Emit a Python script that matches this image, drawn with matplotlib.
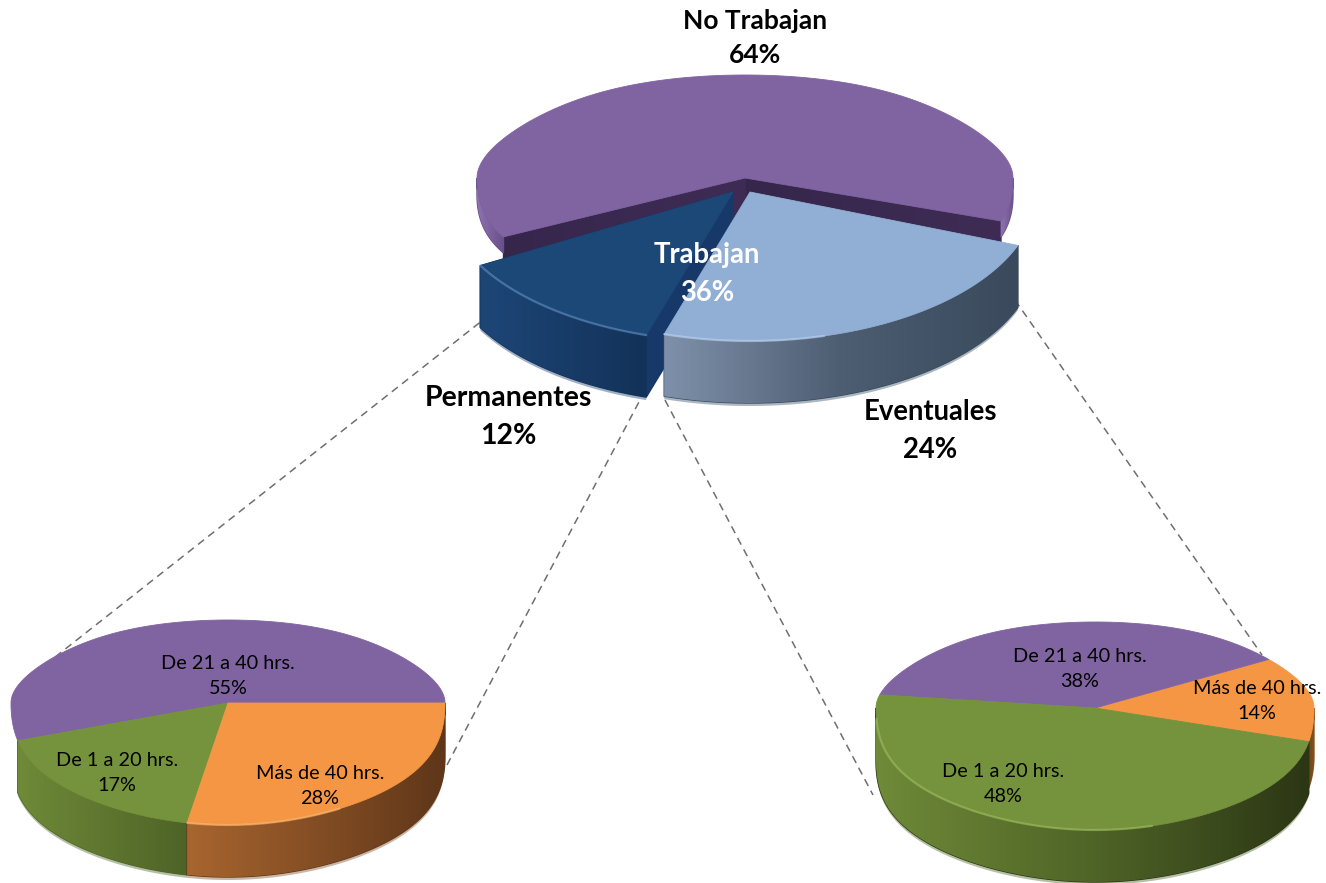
import numpy as np
import matplotlib
matplotlib.use("Agg")
import matplotlib.pyplot as plt
from matplotlib.colors import LinearSegmentedColormap
from matplotlib.patches import Polygon

plt.rcParams['font.family'] = ['Lato', 'DejaVu Sans']

# data
main_labels = ["No Trabajan", "Permanentes", "Eventuales"]
main_values = [64, 12, 24]
worker_label = "Trabajan"
worker_value = 36

perm_labels = ["De 21 a 40 hrs.", "De 1 a 20 hrs.", "Más de 40 hrs."]
perm_values = [55, 17, 28]
even_labels = ["Más de 40 hrs.", "De 21 a 40 hrs.", "De 1 a 20 hrs."]
even_values = [14, 38, 48]

PURPLE = "#8063a1"
NAVY = "#1c4878"
LIGHT = "#91afd5"
GREEN = "#75923c"
ORANGE = "#f49643"

fig = plt.figure(figsize=(13.26, 8.83), dpi=100)
ax = fig.add_axes([0, 0, 1, 1])
ax.set_xlim(0, 1326)
ax.set_ylim(883, 0)
ax.axis("off")
ax.set_autoscale_on(False)

z = [10]


def next_z():
    z[0] += 1
    return z[0]


def rim(cx, cy, rx, ryb, ryf, a0, a1, k=0.28, n=200):
    # angles in degrees, counter-clockwise, back half flatter and narrower
    t = np.radians(np.linspace(a0, a1, n))
    s = np.sin(t)
    y = cy - np.where(s > 0, ryb * s, ryf * s)
    return cx + rx * np.cos(t) * (1 - k * s * np.abs(s) * (1 - np.abs(s))), y


def wall(xs, ys, depth, stops, pale=None):
    # outer or radial side of a slice, filled with a left to right gradient
    if pale:
        px = np.r_[xs, xs[::-1]]
        py = np.r_[ys, ys[::-1] + depth + 3]
        ax.fill(px, py, color=pale, lw=0, zorder=next_z())
    pts = np.c_[np.r_[xs, xs[::-1]], np.r_[ys, ys[::-1] + depth]]
    ax.fill(pts[:, 0], pts[:, 1], color=stops[-1], lw=1, zorder=next_z())
    cmap = LinearSegmentedColormap.from_list("w", stops)
    im = ax.imshow(np.linspace(0, 1, 256)[None, :], cmap=cmap, aspect="auto",
                   extent=[xs.min(), xs.max(), pts[:, 1].max(), pts[:, 1].min()],
                   interpolation="bilinear", zorder=next_z())
    im.set_clip_path(Polygon(pts, transform=ax.transData))


def front_ranges(a0, a1):
    # the part of [a0, a1] that lies on the front half of the pie
    out = []
    for lo, hi in [(-180, 0), (180, 360), (540, 720)]:
        a, b = max(a0, lo), min(a1, hi)
        if b > a:
            out.append((a, b))
    return out


def slice3d(geo, depth, a0, a1, top, outer=None, radial=None, pale=None,
            shine=None, shine_span=None, radial_depth=None, k=0.28):
    cx, cy, rx, ryb, ryf = geo
    if radial:
        for a in (a0, a1):
            xr, yr = rim(cx, cy, rx, ryb, ryf, a, a, k, 1)
            wall(np.r_[cx, xr], np.r_[cy, yr], radial_depth or depth, radial)
    if outer:
        for lo, hi in front_ranges(a0, a1):
            xs, ys = rim(cx, cy, rx, ryb, ryf, lo, hi, k)
            wall(xs, ys, depth, outer, pale)
    xs, ys = rim(cx, cy, rx, ryb, ryf, a0, a1, k, 300)
    ax.fill(np.r_[cx, xs], np.r_[cy, ys], color=top, lw=0.6, ec=top, zorder=next_z())
    if shine:
        for lo, hi in front_ranges(a0, a1):
            if shine_span:
                lo, hi = max(lo, shine_span[0]), min(hi, shine_span[1])
            xs, ys = rim(cx, cy, rx, ryb, ryf, lo, hi, k)
            ax.plot(xs, ys, color=shine, lw=1.6, alpha=0.5, zorder=next_z(),
                    solid_capstyle="round")


def sweep(start, values):
    # slice limits going counter-clockwise from start
    edges = start + np.cumsum([0] + list(values)) * 3.6
    return list(zip(edges[:-1], edges[1:]))


# dashed leader lines
leaders = [((45, 665), (483, 320)), ((447, 765), (640, 400)),
           ((665, 400), (873, 795)), ((1015, 300), (1262, 655))]
for p, q in leaders:
    ax.plot([p[0], q[0]], [p[1], q[1]], color="#6f6f6f", lw=1.1,
            dashes=(5, 3.5), zorder=5)

# main pie
mr = sweep(-21, main_values)
slice3d((745, 178, 268, 103, 120), 16, *mr[0], PURPLE, ["#8f73b0", "#6a4f8a"],
        radial=["#36264c", "#3e2c54"], radial_depth=60)
slice3d((733, 192, 290, 0, 150), 62, *mr[1], NAVY, ["#1d4677", "#133259"],
        radial=["#17396a", "#17396a"], pale="#9fb0c4", shine="#6f9fd0", k=0)
slice3d((750, 192, 287, 0, 149), 62, *mr[2], LIGHT, ["#7f91aa", "#4d5d72", "#3a4a5c"],
        pale="#aab6c2", shine="#c6dcf5", shine_span=(250, 285), k=0)

# permanentes pie
pie1 = (228, 703, 217, 83, 122)
pr = sweep(0, perm_values)
slice3d(pie1, 52, *pr[0], PURPLE)
slice3d(pie1, 52, *pr[1], GREEN, ["#6f8a38", "#4e6327"], pale="#b5bfa5")
slice3d(pie1, 52, *pr[2], ORANGE, ["#a8652f", "#5f3619"], pale="#c9b6a5",
        shine="#ffc080", shine_span=(259, 300))

# eventuales pie
pie2 = (1095, 708, 219, 86, 122)
er = sweep(-16, even_values)
slice3d(pie2, 46, *er[0], ORANGE, ["#6b4a1c", "#8a5020"])
slice3d(pie2, 52, *er[1], PURPLE)
slice3d(pie2, 52, *er[2], GREEN, ["#6f8a38", "#4f6427", "#2c3614"],
        pale="#b5bfa5", shine="#a9c86a", shine_span=(185, 285))

# labels
tz = 500
big = dict(ha="center", va="center", fontweight="bold", linespacing=1.53, zorder=tz)
small = dict(ha="center", va="center", fontsize=14.3, linespacing=1.62, zorder=tz, color="black")

ax.text(755, 38, f"{main_labels[0]}\n{main_values[0]}%", fontsize=19, **big)
ax.text(508, 417, f"{main_labels[1]}\n{main_values[1]}%", fontsize=20.5, **big)
ax.text(930, 431, f"{main_labels[2]}\n{main_values[2]}%", fontsize=19.8, **big)
ax.text(707, 274, f"{worker_label}\n{worker_value}%", color="white", fontsize=19.8, **big)

ax.text(228, 676, f"{perm_labels[0]}\n{perm_values[0]}%", **small)
ax.text(117, 773, f"{perm_labels[1]}\n{perm_values[1]}%", **small)
ax.text(320, 786, f"{perm_labels[2]}\n{perm_values[2]}%", **small)

ax.text(1257, 701, f"{even_labels[0]}\n{even_values[0]}%", **small)
ax.text(1080, 669, f"{even_labels[1]}\n{even_values[1]}%", **small)
ax.text(1003, 784, f"{even_labels[2]}\n{even_values[2]}%", **small)

fig.savefig("out.png", dpi=100)
